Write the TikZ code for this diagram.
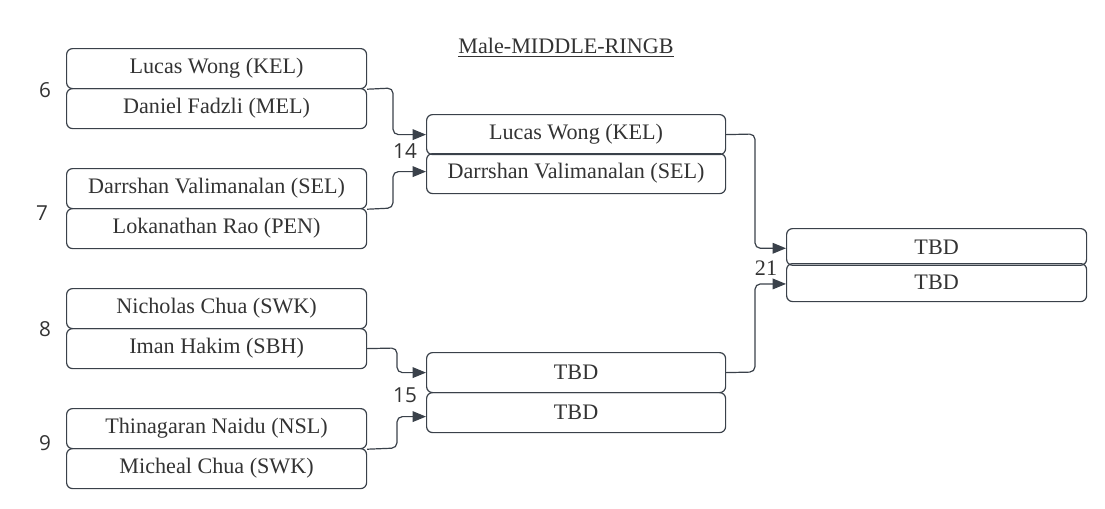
\documentclass[tikz,border=0pt]{standalone}
\usepackage{fontspec}
\setmainfont{Liberation Serif}
\newfontfamily\numfont{Open Sans}
\usetikzlibrary{arrows.meta}
\definecolor{ink}{HTML}{3A414A}
\definecolor{txt}{HTML}{333333}
\tikzset{
  slot/.style={draw=ink, line width=0.9pt, rounded corners=4.5pt, minimum width=#1*0.75pt, minimum height=30pt, inner sep=0pt, text=txt, font=\fontsize{16.6}{18}\selectfont, anchor=north west},
  slot/.default=300,
  link/.style={draw=ink, line width=0.9pt, rounded corners=4pt, -{Triangle[length=10pt,width=8pt]}},
  seed/.style={text=txt, font=\numfont\fontsize{15.5}{17}\selectfont, inner sep=0pt},
  seeds/.style={text=txt, font=\fontsize{16.6}{18}\selectfont, inner sep=0pt}
}
\begin{document}
\begin{tikzpicture}[x=0.75pt,y=-0.75pt]
\useasboundingbox (0,0) rectangle (1105,508);
% title
\node[text=txt, font=\fontsize{16.6}{18}\selectfont, inner sep=0pt] (title) at (566,47.5) {\underline{Male-MIDDLE-RINGB}};
% round 1
\node[slot] (a1) at (66,48) {Lucas Wong (KEL)};
\node[slot] (a2) at (66,88) {Daniel Fadzli (MEL)};
\node[slot] (b1) at (66,168) {Darrshan Valimanalan (SEL)};
\node[slot] (b2) at (66,208) {Lokanathan Rao (PEN)};
\node[slot] (c1) at (66,288) {Nicholas Chua (SWK)};
\node[slot] (c2) at (66,328) {Iman Hakim (SBH)};
\node[slot] (d1) at (66,408) {Thinagaran Naidu (NSL)};
\node[slot] (d2) at (66,448) {Micheal Chua (SWK)};
% round 2
\node[slot=299] (e1) at (426,114) {Lucas Wong (KEL)};
\node[slot=299] (e2) at (426,153) {Darrshan Valimanalan (SEL)};
\node[slot=299] (f1) at (426,352) {TBD};
\node[slot=299] (f2) at (426,392) {TBD};
% round 3
\node[slot=300, minimum height=27.5pt] (g1) at (786,228) {TBD};
\node[slot=300, minimum height=28.5pt] (g2) at (786,263) {TBD};
% seed labels
\node[seed] (n6) at (45,90) {6};
\node[seed] (n7) at (42,213) {7};
\node[seed] (n8) at (45,329) {8};
\node[seed] (n9) at (45,443) {9};
\node[seed] (n14) at (405,151) {14};
\node[seed] (n15) at (405,395) {15};
\node[seeds] (n21) at (766,268) {21};
% connectors
\coordinate (p1) at (393,88);
\draw[link] (a1.south east) -- (p1) |- (e1.west);
\coordinate (p2) at (393,208);
\draw[link] (b1.south east) -- (p2) |- ([yshift=1.5pt]e2.west);
\coordinate (p3) at (397,348);
\draw[link] (c2.east) -- (p3) |- (f1.west);
\coordinate (p4) at (397,448);
\draw[link] (d1.south east) -- (p4) |- ([yshift=-3pt]f2.west);
\coordinate (p5) at (755,134);
\draw[link] (e1.east) -- (p5) |- ([yshift=-1pt]g1.west);
\coordinate (p6) at (755,372);
\draw[link] (f1.east) -- (p6) |- ([yshift=-1pt]g2.west);
\end{tikzpicture}
\end{document}
